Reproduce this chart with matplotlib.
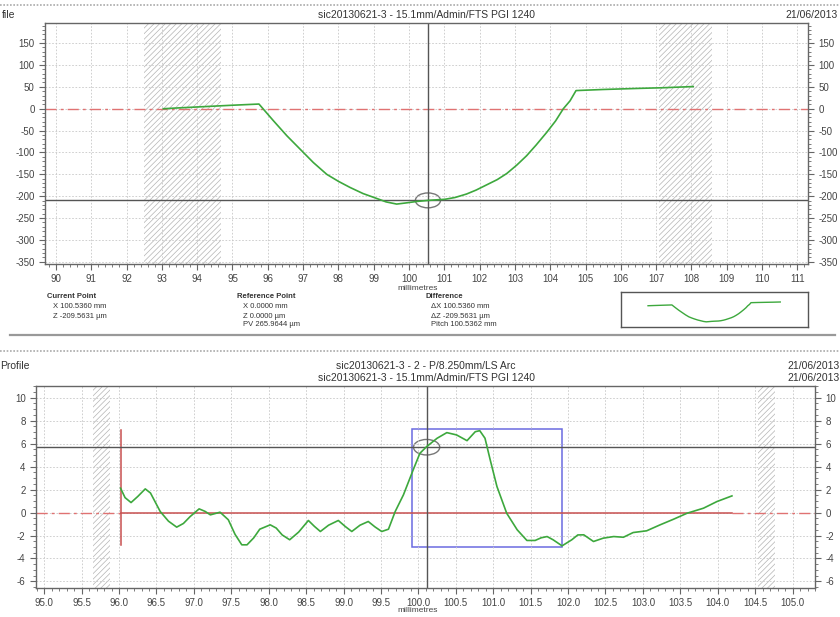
"""Two-panel surface profile report (form + residual profile)."""
import matplotlib
matplotlib.use("Agg")
import matplotlib.pyplot as plt
from matplotlib.patches import Ellipse, Rectangle
from matplotlib.lines import Line2D
from matplotlib.ticker import MultipleLocator, FormatStrFormatter

plt.rcParams["font.family"] = ["Liberation Sans", "DejaVu Sans"]
plt.rcParams["axes.unicode_minus"] = False
plt.rcParams["hatch.linewidth"] = 0.5

# ---- top panel: measured form (mm vs um) ----
top_x = [93.04, 93.5, 94.0, 94.5, 95.0, 95.75, 96.16, 96.54, 96.91, 97.29, 97.67,
         98.0, 98.33, 98.7, 99.08, 99.35, 99.65, 99.95, 100.22, 100.54, 101.02,
         101.3, 101.63, 101.9, 102.2, 102.5, 102.77, 103.05, 103.33, 103.6,
         103.9, 104.15, 104.37, 104.56, 104.73, 105.5, 106.5, 107.2, 108.05]
top_z = [0, 2, 4, 6, 8, 10.7, -27.5, -61.8, -92, -123, -150,
         -166, -180, -194, -205, -213, -218, -215, -212, -209.6, -207,
         -203, -195, -186, -174, -162, -148, -129, -107.5, -83,
         -54, -28, 0, 18, 41.5, 44, 46.5, 48, 50.7]
top_hatch = [(92.49, 94.67), (107.08, 108.58)]
top_cursor = (100.536, -209.5631)

# ---- bottom panel: residual profile ----
bot_x = [96.02, 96.08, 96.16, 96.25, 96.35, 96.42, 96.55, 96.66, 96.77, 96.86,
         96.95, 97.07, 97.15, 97.22, 97.35, 97.46, 97.55, 97.64, 97.71, 97.8,
         97.88, 98.02, 98.1, 98.18, 98.28, 98.4, 98.53, 98.61, 98.69, 98.8,
         98.93, 99.02, 99.11, 99.22, 99.33, 99.42, 99.51, 99.60, 99.69, 99.80,
         99.93, 100.02, 100.11, 100.25, 100.38, 100.51, 100.65, 100.76, 100.82,
         100.89, 100.96, 101.05, 101.18, 101.32, 101.45, 101.56, 101.64, 101.72,
         101.80, 101.92, 102.05, 102.13, 102.21, 102.34, 102.47, 102.61, 102.74,
         102.87, 103.05, 103.23, 103.41, 103.59, 103.81, 103.99, 104.19]
bot_z = [2.12, 1.3, 0.87, 1.4, 2.06, 1.7, 0.09, -0.75, -1.27, -0.95,
         -0.35, 0.32, 0.1, -0.2, 0.03, -0.63, -1.9, -2.81, -2.81, -2.2,
         -1.45, -1.07, -1.35, -1.95, -2.37, -1.7, -0.69, -1.2, -1.65, -1.1,
         -0.69, -1.2, -1.65, -1.1, -0.78, -1.25, -1.65, -1.45, 0.09, 1.54,
         3.71, 5.16, 5.74, 6.47, 6.96, 6.76, 6.26, 7.04, 7.13,
         6.47, 4.58, 2.26, -0.06, -1.5, -2.43, -2.43, -2.2, -2.09,
         -2.37, -2.9, -2.37, -1.95, -1.94, -2.52, -2.23, -2.09, -2.15,
         -1.74, -1.59, -1.07, -0.58, -0.06, 0.38, 0.96, 1.45]
bot_hatch = [(95.65, 95.88), (104.54, 104.77)]
bot_cursor = (100.11, 5.69)
bot_box = (99.92, 101.92, -2.96, 7.25)
bot_fit = (96.02, 104.19)

GREEN = "#3da83d"
RED_DASH = "#e07272"
CURSOR = "#555555"
TICK_C = "#444444"
HATCH_C = "#b4b4b4"
DASHDOT = (0, (8, 3, 2, 3))

W, H = 840, 617
fig = plt.figure(figsize=(W / 100, H / 100), dpi=100)


def fx(px):
    return px / W


def fy(py):
    return 1 - py / H


def style(ax, xmaj, xmin, ymaj, ymin):
    ax.xaxis.set_major_locator(MultipleLocator(xmaj))
    ax.xaxis.set_minor_locator(MultipleLocator(xmin))
    ax.yaxis.set_major_locator(MultipleLocator(ymaj))
    ax.yaxis.set_minor_locator(MultipleLocator(ymin))
    ax.tick_params(which="both", direction="out", colors="#666666",
                   labelcolor=TICK_C, labelsize=7, right=True, labelright=True)
    ax.tick_params(which="major", length=4, width=0.8)
    ax.tick_params(which="minor", length=2, width=0.6)
    ax.grid(True, which="major", color="#c8c8c8", ls=(0, (2, 2)), lw=0.6)
    for s in ax.spines.values():
        s.set_color("#666666")
        s.set_linewidth(1.0)


# ---------- top chart ----------
ax1 = fig.add_axes([fx(45), fy(264), fx(808 - 45), (264 - 23) / H])
ax1.set_xlim(89.69, 111.3)
ax1.set_ylim(-355, 196)
style(ax1, 1, 0.2, 50, 10)
for a, b in top_hatch:
    ax1.axvspan(a, b, facecolor="none", edgecolor=HATCH_C, hatch="//////", lw=0)
ax1.axhline(0, color=RED_DASH, lw=1.0, ls=DASHDOT)
ax1.axvline(top_cursor[0], color=CURSOR, lw=1.0)
ax1.axhline(top_cursor[1], color=CURSOR, lw=1.0)
ax1.plot(top_x, top_z, color=GREEN, lw=1.2)
ax1.add_patch(Ellipse(top_cursor, 0.71, 34, fill=False, ec="#777777", lw=1.0))

fig.text(fx(2), fy(15), "file", fontsize=7.5, color="#333333", va="center")
fig.text(fx(426), fy(15), "sic20130621-3 - 15.1mm/Admin/FTS PGI 1240",
         fontsize=7.5, color="#333333", va="center", ha="center")
fig.text(fx(838), fy(15), "21/06/2013", fontsize=7.5, color="#333333",
         va="center", ha="right")
fig.text(fx(418), fy(288), "millimetres", fontsize=6, color="#444444",
         ha="center", va="center")

# info panel
info = [
    (47, "Current Point", ["X 100.5360 mm", "Z -209.5631 \u00b5m"]),
    (237, "Reference Point", ["X 0.0000 mm", "Z 0.0000 \u00b5m", "PV 265.9644 \u00b5m"]),
    (425, "Difference", ["\u0394X 100.5360 mm", "\u0394Z -209.5631 \u00b5m",
                         "Pitch 100.5362 mm"]),
]
for px, head, rows in info:
    fig.text(fx(px), fy(297), head, fontsize=5.5, fontweight="bold",
             color="#333333", va="center")
    for i, r in enumerate(rows):
        fig.text(fx(px + 6), fy(307 + 9 * i), r, fontsize=5.5,
                 color="#333333", va="center")

# thumbnail of the form
axt = fig.add_axes([fx(621), fy(327), fx(808 - 621), 35 / H])
axt.plot(top_x, top_z, color=GREEN, lw=1.0)
axt.set_xlim(89.97, 111.2)
axt.set_ylim(-288, 186)
axt.set_xticks([])
axt.set_yticks([])
for s in axt.spines.values():
    s.set_color("#555555")
    s.set_linewidth(1.0)

# separators
fig.add_artist(Line2D([0, 1], [fy(5), fy(5)], color="#aaaaaa", lw=1.2,
                      ls=(0, (1, 1))))
fig.add_artist(Line2D([fx(10), fx(835)], [fy(335), fy(335)], color="#999999", lw=1.6))
fig.add_artist(Line2D([0, 1], [fy(351), fy(351)], color="#aaaaaa", lw=1.2,
                      ls=(0, (1, 1))))

# ---------- bottom chart ----------
ax2 = fig.add_axes([fx(36), fy(588), fx(815 - 36), (588 - 386) / H])
ax2.set_xlim(94.89, 105.3)
ax2.set_ylim(-6.57, 11.02)
style(ax2, 0.5, 0.1, 2, 0.5)
ax2.xaxis.set_major_formatter(FormatStrFormatter("%.1f"))
for a, b in bot_hatch:
    ax2.axvspan(a, b, facecolor="none", edgecolor=HATCH_C, hatch="//////", lw=0)
ax2.plot([94.89, bot_fit[0]], [0, 0], color=RED_DASH, lw=1.0, ls=DASHDOT)
ax2.plot([bot_fit[1], 105.3], [0, 0], color=RED_DASH, lw=1.0, ls=DASHDOT)
ax2.plot(list(bot_fit), [0, 0], color="#c85050", lw=1.1)
ax2.plot([bot_fit[0], bot_fit[0]], [-2.8, 7.2], color="#c85050", lw=1.1)
ax2.axvline(bot_cursor[0], color=CURSOR, lw=1.0)
ax2.axhline(bot_cursor[1], color=CURSOR, lw=1.0)
x0, x1, y0, y1 = bot_box
ax2.add_patch(Rectangle((x0, y0), x1 - x0, y1 - y0, fill=False,
                        ec="#6b6be0", lw=1.1))
ax2.plot(bot_x, bot_z, color=GREEN, lw=1.2)
ax2.add_patch(Ellipse(bot_cursor, 0.35, 1.35, fill=False, ec="#777777", lw=1.0))

fig.text(fx(0), fy(366), "Profile", fontsize=7.5, color="#333333", va="center")
fig.text(fx(426), fy(366), "sic20130621-3 - 2 - P/8.250mm/LS Arc",
         fontsize=7.5, color="#333333", va="center", ha="center")
fig.text(fx(426), fy(378), "sic20130621-3 - 15.1mm/Admin/FTS PGI 1240",
         fontsize=7.5, color="#333333", va="center", ha="center")
fig.text(fx(840), fy(366), "21/06/2013", fontsize=7.5, color="#333333",
         va="center", ha="right")
fig.text(fx(840), fy(378), "21/06/2013", fontsize=7.5, color="#333333",
         va="center", ha="right")
fig.text(fx(418), fy(611), "millimetres", fontsize=6, color="#444444",
         ha="center", va="center")

fig.savefig("out.png", dpi=100)
